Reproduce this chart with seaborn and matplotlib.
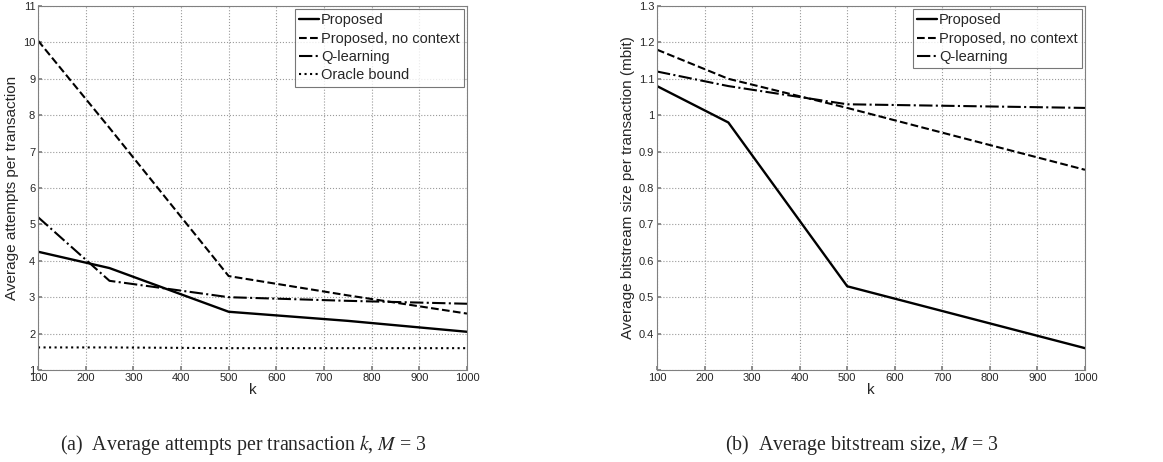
import matplotlib
matplotlib.use("Agg")
import matplotlib.pyplot as plt
import seaborn as sns
import pandas as pd

k = [100, 250, 500, 750, 1000]

att_proposed = [4.25, 3.8, 2.6, 2.35, 2.05]
att_noctx = [10.05, 7.65, 3.58, 3.05, 2.55]
att_q = [5.2, 3.45, 3.0, 2.9, 2.82]
att_oracle = [1.62, 1.62, 1.6, 1.6, 1.6]

bs_proposed = [1.08, 0.98, 0.53, 0.445, 0.36]
bs_noctx = [1.18, 1.10, 1.02, 0.935, 0.85]
bs_q = [1.12, 1.08, 1.03, 1.025, 1.02]

labels = ["Proposed", "Proposed, no context", "Q-learning", "Oracle bound"]
styles = ["-", "--", "-.", ":"]

sns.set_theme(style="white")
plt.rcParams['font.family'] = ['Liberation Sans', 'DejaVu Sans']

fig = plt.figure(figsize=(11.63, 4.62), dpi=100)
W, H = 1163, 462
ax1 = fig.add_axes([38 / W, 1 - 370 / H, (467 - 38) / W, (370 - 6) / H])
ax2 = fig.add_axes([657 / W, 1 - 370 / H, (1085 - 657) / W, (370 - 6) / H])

def draw(ax, series, names):
    for vals, name, ls in zip(series, names, styles):
        df = pd.DataFrame({"k": k, "v": vals})
        sns.lineplot(data=df, x="k", y="v", ax=ax, color="black", linestyle=ls,
                     linewidth=1.7 if ls == "-" else 1.5, label=name)
    ax.set_xlim(100, 1000)
    ax.set_xticks(range(100, 1001, 100))
    ax.grid(True, color="#9a9a9a", linestyle=":", linewidth=0.8)
    for s in ax.spines.values():
        s.set_color("#808080")
        s.set_linewidth(0.8)
    ax.tick_params(axis="both", labelsize=8, length=3, direction="in", pad=2,
                   color="#808080", bottom=True, left=True)
    ax.set_xlabel("k", fontsize=11, labelpad=0)
    leg = ax.legend(loc="upper right", fontsize=10.5, frameon=True, fancybox=False,
                    borderpad=0.3, labelspacing=0.3, handlelength=1.35,
                    handletextpad=0.15, borderaxespad=0.2)
    leg.get_frame().set_edgecolor("#555555")
    leg.get_frame().set_linewidth(0.8)

draw(ax1, [att_proposed, att_noctx, att_q, att_oracle], labels)
ax1.set_ylim(1, 11)
ax1.set_yticks(range(1, 12))
ax1.set_ylabel("Average attempts per transaction", fontsize=11, labelpad=3)

draw(ax2, [bs_proposed, bs_noctx, bs_q], labels[:3])
ax2.set_ylim(0.3, 1.3)
yt = [0.4, 0.5, 0.6, 0.7, 0.8, 0.9, 1.0, 1.1, 1.2, 1.3]
ax2.set_yticks([0.3] + yt)
ax2.set_yticklabels([""] + ["1" if v == 1.0 else f"{v:.1f}" for v in yt])
ax2.set_ylabel("Average bitstream size per transaction (mbit)", fontsize=11, labelpad=3)

cap_font = dict(family=['Liberation Serif', 'DejaVu Serif'], fontsize=14.3, ha="center", va="center")
fig.text(243 / W, 1 - 445 / H, r"(a)  Average attempts per transaction $k$, $M$ = 3", math_fontfamily="stix", **cap_font)
fig.text(862 / W, 1 - 445 / H, r"(b)  Average bitstream size, $M$ = 3", math_fontfamily="stix", **cap_font)

fig.savefig("out.png", dpi=100)
